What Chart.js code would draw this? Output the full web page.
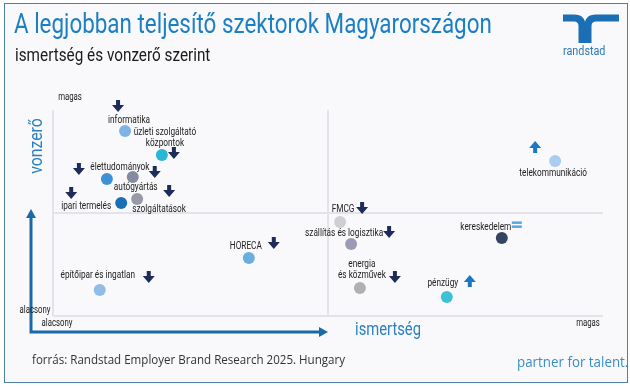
<!DOCTYPE html>
<html>
<head>
<meta charset="utf-8">
<script src="https://cdn.jsdelivr.net/npm/chart.js@4.4.1/dist/chart.umd.min.js"></script>
<style>
  body { margin: 0; width: 630px; height: 388px; overflow: hidden; background: #fff; font-family: Roboto, sans-serif; position: relative; }
  #frame { position: absolute; left: 4px; top: 3px; width: 622px; height: 378px; border: 1px solid #4f81a6; background: #f9f9fc; }
  #myChart { position: absolute; left: 0; top: 0; }
  .t { position: absolute; white-space: nowrap; transform-origin: 0 0; }
  #title { left: 14px; top: 7px; font-size: 28px; color: #1b7fc4; transform: scaleX(0.80); }
  #sub { left: 15px; top: 44px; font-size: 18px; color: #1a1a1a; transform: scaleX(0.85); }
  #src { left: 32px; top: 350px; font-size: 13px; color: #333; font-family: "Open Sans", sans-serif; transform: scaleX(0.89); }
  #pft { left: 517px; top: 351px; font-size: 15px; color: #3b8cc6; font-family: "Open Sans", sans-serif; transform: scaleX(0.89); }
  #rs { left: 563px; top: 44px; font-size: 12px; color: #2b78b6; transform: scaleX(0.9); }
  #logo { position: absolute; left: 0; top: 0; }
</style>
</head>
<body>
<div id="frame"></div>
<canvas id="myChart" width="630" height="388"></canvas>
<div class="t" id="title">A legjobban teljesítő szektorok Magyarországon</div>
<div class="t" id="sub">ismertség és vonzerő szerint</div>
<svg id="logo" width="630" height="60">
  <path d="M563,18 H574 Q582,18 582,26 V43" fill="none" stroke="#1a6fb5" stroke-width="7"/>
  <path d="M619,18 H596 Q588,18 588,26 V43" fill="none" stroke="#1a6fb5" stroke-width="7"/>
</svg>
<div class="t" id="rs">randstad</div>
<div class="t" id="src">forrás: Randstad Employer Brand Research 2025. Hungary</div>
<div class="t" id="pft">partner for talent.</div>
<script>
// szektorok (ismertség = x, vonzerő = y, 0-100 skála)
var sectors = [
  'informatika', ['üzleti szolgáltató', 'központok'], 'élettudományok', 'autógyártás',
  'ipari termelés', 'szolgáltatások', 'HORECA', 'építőipar és ingatlan',
  'FMCG', 'szállítás és logisztika', ['energia', 'és közművek'], 'pénzügy',
  'kereskedelem', 'telekommunikáció'
];
var ismertseg = [13.1, 19.8, 9.8, 14.5, 12.4, 15.3, 35.6, 8.5, 52.2, 54.2, 55.8, 71.6, 81.6, 91.3];
var vonzero   = [89.8, 78.2, 66.5, 67.5, 54.9, 56.8, 28.2, 12.6, 45.6, 35.0, 13.6, 9.2, 37.9, 75.2];
var trend = ['down', 'down', 'down', 'down', 'down', 'down', 'down', 'down',
             'down', 'down', 'down', 'up', 'same', 'up'];

var dotColors = ['#7db4e4', '#29b8d4', '#3b93d6', '#858b9e', '#1c6fb3', '#9999a8', '#6aaee0',
                 '#8fbde6', '#cfcfd3', '#9b9cb4', '#b0b0b4', '#3cc3d3', '#364462', '#a9cdf0'];

// felirat és nyíl eltolás a ponthoz képest (px)
var labelOffsets = [[4, -11], [3, -12], [13, -12], [3, 10], [-35, 3], [22, 10], [-3, -12],
                    [-2, -15], [3, -13], [-7, -11], [2, -13], [-4, -14], [-16, -11], [-2, 12]];
var arrowOffsets = [[-7, -25], [12, -2], [-28, -10], [22, -5], [-50, -10], [32, -8], [25, -15],
                    [49, -13], [22, -14], [38, -12], [35, -11], [23, -16], [15, -13], [-20, -14]];

function narrowText(ctx, text, cx, cy, sx) {
  ctx.save();
  ctx.translate(cx, cy);
  ctx.scale(sx, 1);
  ctx.textAlign = 'center';
  ctx.textBaseline = 'middle';
  ctx.fillText(text, 0, 0);
  ctx.restore();
}

function drawTrend(ctx, kind, x, y) {
  if (kind === 'same') {
    ctx.fillStyle = '#56a8dc';
    ctx.fillRect(x - 5, y - 3.5, 10, 2.5);
    ctx.fillRect(x - 5, y + 0.5, 10, 2.5);
    return;
  }
  var d = kind === 'down' ? 1 : -1;
  ctx.fillStyle = kind === 'down' ? '#1f2b58' : '#1a78c4';
  ctx.beginPath();
  ctx.moveTo(x - 2, y - 6 * d);
  ctx.lineTo(x + 2, y - 6 * d);
  ctx.lineTo(x + 2, y - 1 * d);
  ctx.lineTo(x + 6, y - 1 * d);
  ctx.lineTo(x, y + 6 * d);
  ctx.lineTo(x - 6, y - 1 * d);
  ctx.lineTo(x - 2, y - 1 * d);
  ctx.closePath();
  ctx.fill();
}

var annot = {
  id: 'annot',
  afterDatasetsDraw: function(chart) {
    var ctx = chart.ctx, a = chart.chartArea;
    var xs = chart.scales.x, ys = chart.scales.y;
    var meta = chart.getDatasetMeta(0);
    ctx.save();

    // címkék + trend nyilak
    meta.data.forEach(function(pt, i) {
      var lines = [].concat(sectors[i]);
      ctx.font = '11px Roboto';
      ctx.fillStyle = '#222';
      lines.forEach(function(ln, k) {
        narrowText(ctx, ln, pt.x + labelOffsets[i][0], pt.y + labelOffsets[i][1] + (k - lines.length + 1) * 11, 0.75);
      });
      drawTrend(ctx, trend[i], pt.x + arrowOffsets[i][0], pt.y + arrowOffsets[i][1]);
    });

    // kék tengely nyilak
    var ox = a.left - 22, oy = a.bottom + 16;
    var midX = xs.getPixelForValue(50), midY = ys.getPixelForValue(50);
    ctx.strokeStyle = '#1a6aa8';
    ctx.fillStyle = '#1a6aa8';
    ctx.lineWidth = 3;
    ctx.beginPath();
    ctx.moveTo(ox, midY + 4);
    ctx.lineTo(ox, oy);
    ctx.lineTo(midX - 6, oy);
    ctx.stroke();
    ctx.beginPath();
    ctx.moveTo(ox, midY - 4);
    ctx.lineTo(ox - 5, midY + 5);
    ctx.lineTo(ox + 5, midY + 5);
    ctx.fill();
    ctx.beginPath();
    ctx.moveTo(midX, oy);
    ctx.lineTo(midX - 9, oy - 5);
    ctx.lineTo(midX - 9, oy + 5);
    ctx.fill();

    // tengelycímek
    ctx.fillStyle = '#2a80c2';
    ctx.font = '18px Roboto';
    ctx.save();
    ctx.translate(ox + 6, a.top + 36);
    ctx.rotate(-Math.PI / 2);
    narrowText(ctx, 'vonzerő', 0, 0, 0.88);
    ctx.restore();
    narrowText(ctx, 'ismertség', midX + 60, oy - 2, 0.82);

    // magas / alacsony
    ctx.fillStyle = '#222';
    ctx.font = '10px Roboto';
    narrowText(ctx, 'magas', a.left + 17, a.top - 13, 0.78);
    narrowText(ctx, 'alacsony', a.left - 18, a.bottom - 6, 0.78);
    narrowText(ctx, 'alacsony', a.left + 4, a.bottom + 7, 0.78);
    narrowText(ctx, 'magas', a.right - 15, a.bottom + 7, 0.78);
    ctx.restore();
  }
};

var points = ismertseg.map(function(v, i) { return { x: v, y: vonzero[i] }; });

function gridColor(c) {
  return (c.tick && (c.tick.value === 0 || c.tick.value === 50)) ? '#e3e3eb' : 'rgba(0,0,0,0)';
}

var ctx = document.getElementById('myChart');
var myChart = new Chart(ctx, {
  type: 'scatter',
  data: {
    datasets: [{
      data: points,
      backgroundColor: dotColors,
      borderWidth: 0,
      pointRadius: 6,
      pointHoverRadius: 6
    }]
  },
  options: {
    responsive: false,
    animation: false,
    layout: { padding: { left: 53, top: 110, right: 27, bottom: 72 } },
    plugins: { legend: { display: false }, tooltip: { enabled: false } },
    scales: {
      x: {
        min: 0, max: 100,
        ticks: { display: false, stepSize: 50 },
        border: { display: false },
        grid: { drawTicks: false, color: gridColor, lineWidth: 2 }
      },
      y: {
        min: 0, max: 100,
        ticks: { display: false, stepSize: 50 },
        border: { display: false },
        grid: { drawTicks: false, color: gridColor, lineWidth: 2 }
      }
    }
  },
  plugins: [annot]
});
</script>
</body>
</html>
